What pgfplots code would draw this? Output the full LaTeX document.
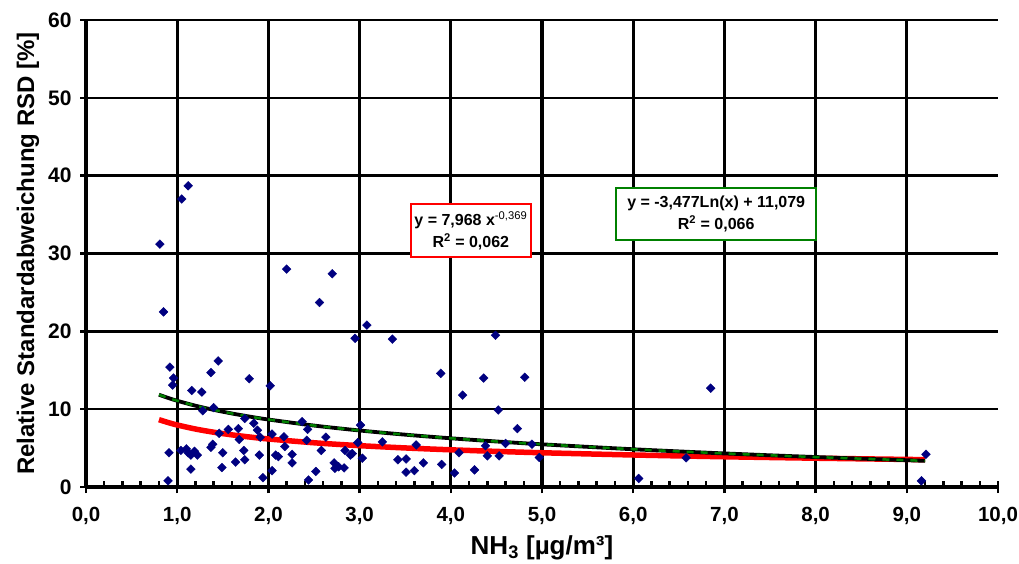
\documentclass[border=0pt]{standalone}
\usepackage{pgfplots}
\pgfplotsset{compat=1.18}
\usepackage{fontspec}
\setmainfont{Liberation Sans}
\definecolor{navy}{RGB}{0,0,128}
\definecolor{tgreen}{RGB}{0,128,0}
\begin{document}
\begin{tikzpicture}
\begin{axis}[
  scale only axis, width=912pt, height=467pt,
  xmin=0, xmax=10, ymin=0, ymax=60,
  axis x line=bottom, axis y line=left,
  axis line style={-, line width=3.5pt, black},
  xtick={0,1,...,10}, ytick={0,10,...,60},
  minor x tick num=4,
  tick align=center,
  major tick length=12pt, minor tick length=6pt,
  major tick style={black, line width=2.5pt},
  minor tick style={black, line width=2.5pt, yshift=3pt},
  ymajorgrids, y grid style={black, line width=2.5pt},
  x grid style={black, line width=3.2pt},
  extra x ticks={1,2,...,9}, extra x tick labels={},
  extra x tick style={grid=major},
  /pgf/number format/assume math mode=true,
  xticklabel style={font=\bfseries\fontsize{20.5}{20.5}\selectfont, yshift=-11pt, /pgf/number format/.cd, fixed, fixed zerofill, precision=1, use comma},
  yticklabel style={font=\bfseries\fontsize{21}{21}\selectfont, xshift=-5pt, /pgf/number format/.cd, fixed, precision=0},
  xlabel={NH\textsubscript{3} [µg/m³]},
  ylabel={Relative Standardabweichung RSD [\%]},
  label style={font=\bfseries\fontsize{24}{24}\selectfont},
  xlabel style={font=\bfseries\fontsize{26}{26}\selectfont, at={(axis description cs:0.5,-0.13)}, anchor=center},
  ylabel style={at={(axis description cs:-0.0635,0.5)}, anchor=center},
  clip=false,
]
\addplot[only marks, mark=square*, mark size=3.1pt, mark options={rotate=45}, color=navy] coordinates {
(0.81,31.2)(0.85,22.5)(0.92,15.4)(0.96,14.0)(0.95,13.1)(0.91,4.4)(0.90,0.8)
(1.05,37.0)(1.12,38.7)(1.04,4.7)(1.10,4.9)(1.12,4.4)(1.15,4.1)(1.19,4.6)(1.22,4.1)(1.15,2.3)
(1.16,12.4)(1.27,12.2)(1.37,14.7)(1.45,16.2)(1.40,10.2)(1.28,9.8)(1.37,5.1)(1.39,5.5)(1.50,4.4)(1.49,2.5)(1.46,6.9)
(1.56,7.4)(1.67,7.5)(1.68,6.1)(1.73,4.7)(1.64,3.2)(1.74,3.5)(1.74,8.8)(1.84,8.2)(1.88,7.3)(1.91,6.4)(1.90,4.1)(1.94,1.2)(1.79,13.9)
(2.02,13.0)(2.04,6.8)(2.04,2.1)(2.08,4.1)(2.11,3.9)(2.17,6.45)(2.18,5.2)(2.26,4.2)(2.26,3.1)(2.37,8.4)(2.43,7.4)(2.42,6.0)(2.44,0.9)(2.20,28.0)
(2.52,2.0)(2.58,4.7)(2.63,6.4)(2.56,23.7)(2.70,27.4)(2.72,3.1)(2.73,2.4)(2.77,2.6)(2.83,2.45)(2.84,4.7)(2.90,4.1)(2.92,4.3)(2.95,19.1)(2.98,5.7)
(3.01,7.95)(3.03,3.7)(3.08,20.8)(3.25,5.8)(3.36,19.0)(3.42,3.5)
(3.51,3.6)(3.51,1.9)(3.60,2.1)(3.62,5.4)(3.70,3.1)(3.89,14.6)(3.90,2.9)
(4.04,1.8)(4.09,4.4)(4.13,11.8)(4.26,2.2)(4.36,14.0)(4.38,5.3)(4.40,4.0)(4.49,19.5)(4.52,9.9)(4.53,4.0)(4.60,5.6)(4.73,7.5)(4.81,14.1)(4.89,5.5)(4.97,3.8)
(6.06,1.1)(6.58,3.75)(6.85,12.7)(9.16,0.8)(9.21,4.2)
};
% power trendline y = 7.968 x^-0.369 (values precomputed)
\addplot[red, line width=5.5pt, smooth] coordinates {
(0.8,8.652)(0.9,8.284)(1.0,7.968)(1.2,7.449)(1.4,7.037)(1.6,6.700)(1.8,6.414)(2.0,6.170)(2.5,5.682)(3.0,5.312)(3.5,5.018)(4.0,4.778)(4.5,4.574)(5.0,4.400)(6.0,4.113)(7.0,3.886)(8.0,3.700)(9.2,3.513)
};
% log trendline y = -3.477 ln(x) + 11.079 (values precomputed)
\addplot[black, line width=3.8pt, smooth] coordinates {
(0.8,11.855)(0.9,11.445)(1.0,11.079)(1.2,10.445)(1.4,9.909)(1.6,9.445)(1.8,9.035)(2.0,8.669)(2.5,7.893)(3.0,7.259)(3.5,6.723)(4.0,6.259)(4.5,5.849)(5.0,5.483)(6.0,4.849)(7.0,4.313)(8.0,3.849)(9.2,3.363)
};
\addplot[tgreen, line width=2.5pt, smooth, dash pattern=on 7pt off 7pt] coordinates {
(0.8,11.855)(0.9,11.445)(1.0,11.079)(1.2,10.445)(1.4,9.909)(1.6,9.445)(1.8,9.035)(2.0,8.669)(2.5,7.893)(3.0,7.259)(3.5,6.723)(4.0,6.259)(4.5,5.849)(5.0,5.483)(6.0,4.849)(7.0,4.313)(8.0,3.849)(9.2,3.363)
};
\node[draw=red, line width=1.8pt, fill=white, align=center, minimum width=120pt, minimum height=53pt, inner sep=2pt,
  font=\bfseries\fontsize{16}{22}\selectfont] at (axis cs:4.22,32.95)
  {y = 7,968 x\textsuperscript{\mdseries -0,369}\\R\textsuperscript{2} = 0,062};
\node[draw=tgreen, line width=1.8pt, fill=white, align=center, minimum width=200pt, minimum height=52pt, inner sep=2pt,
  font=\bfseries\fontsize{16}{22}\selectfont] at (axis cs:6.91,35.1)
  {y = -3,477Ln(x) + 11,079\\R\textsuperscript{2} = 0,066};
\end{axis}
\pgfresetboundingbox
\path[use as bounding box] ([xshift=-86pt,yshift=-77pt]current axis.south west) rectangle ([xshift=21pt,yshift=20pt]current axis.north east);
\end{tikzpicture}
\end{document}
